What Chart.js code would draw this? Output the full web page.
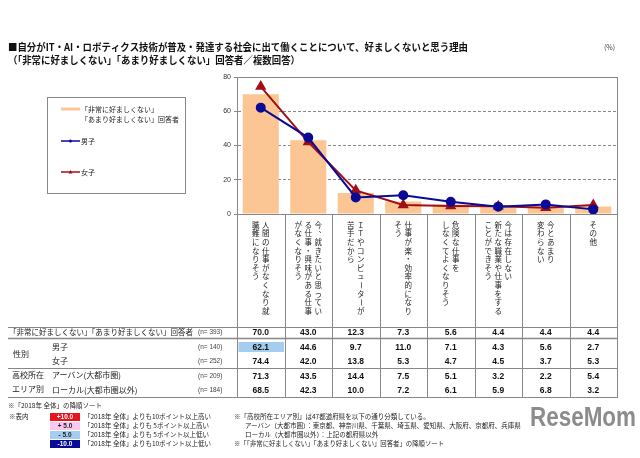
<!DOCTYPE html>
<html>
<head>
<meta charset="utf-8">
<script src="https://cdn.jsdelivr.net/npm/chart.js@4.4.0/dist/chart.umd.min.js"></script>
<style>
html, body { margin: 0; padding: 0; background: #fff; }
#wrap { width: 640px; height: 458px; position: relative; }
</style>
</head>
<body>
<div id="wrap"><canvas id="myChart"></canvas></div>
<script>
// vertical labels, one string per column (right column first)
var categories = [
    ['人間の仕事がなくなり就', '職難になりそう'],
    ['今、就きたいと思ってい', 'る仕事・興味がある仕事', 'がなくなりそう'],
    ['ＩＴやコンピューターが', '苦手だから'],
    ['仕事が楽・効率的になり', 'そう'],
    ['危険な仕事を', 'しなくてよくなりそう'],
    ['今は存在しない', '新たな職業や仕事をする', 'ことができそう'],
    ['今とあまり', '変わらない'],
    ['その他']
];
var total = [70.0, 43.0, 12.3, 7.3, 5.6, 4.4, 4.4, 4.4];
var boys  = [62.1, 44.6, 9.7, 11.0, 7.1, 4.3, 5.6, 2.7];
var girls = [74.4, 42.0, 13.8, 5.3, 4.7, 4.5, 3.7, 5.3];
var urban = [71.3, 43.5, 14.4, 7.5, 5.1, 3.2, 2.2, 5.4];
var local = [68.5, 42.3, 10.0, 7.2, 6.1, 5.9, 6.8, 3.2];
var sampleSizes = [393, 140, 252, 209, 184];
var yMax = 80;
var yStep = 20;

var JP = '"Noto Sans CJK JP", sans-serif';
var NUM = '"Liberation Sans", Arial, sans-serif';

var tableRows = [total, boys, girls, urban, local];
var rowY = [332, 347, 361, 376, 390];

function cellColor(v, base) {
    var d = v - base;
    if (d >= 10) return '#e8141e';
    if (d >= 5) return '#f9c8f0';
    if (d <= -10) return '#0a0a9a';
    if (d <= -5) return '#a4cdf0';
    return null;
}

function line(ctx, x1, y1, x2, y2) {
    ctx.beginPath();
    ctx.moveTo(x1, y1);
    ctx.lineTo(x2, y2);
    ctx.stroke();
}

var decorations = {
    id: 'decorations',
    afterDraw: function (chart) {
        var ctx = chart.ctx;
        var area = chart.chartArea;
        var xs = chart.scales.x;
        ctx.save();

        // title
        ctx.fillStyle = '#111';
        ctx.textBaseline = 'middle';
        ctx.font = 'bold 10px ' + JP;
        ctx.fillText('■自分がIT・AI・ロボティクス技術が普及・発達する社会に出て働くことについて、好ましくないと思う理由', 8, 47, 460);
        ctx.fillText('（「非常に好ましくない」「あまり好ましくない」回答者／複数回答）', 8, 60, 292);
        ctx.font = '7px ' + JP;
        ctx.fillStyle = '#444';
        ctx.fillText('(%)', 604, 47);

        // plot frame
        ctx.strokeStyle = '#888';
        ctx.lineWidth = 1;
        ctx.strokeRect(Math.round(area.left) + 0.5, Math.round(area.top) + 0.5,
            Math.round(area.right - area.left), Math.round(area.bottom - area.top));

        // legend box
        ctx.strokeStyle = '#888';
        ctx.strokeRect(47.5, 97.5, 138, 96);
        ctx.fillStyle = '#222';
        ctx.font = '7px ' + JP;
        ctx.strokeStyle = '#fbc693';
        ctx.lineWidth = 3;
        line(ctx, 61, 109, 80, 109);
        ctx.fillText('「非常に好ましくない」', 81, 109);
        ctx.fillText('「あまり好ましくない」回答者', 81, 119);
        ctx.lineWidth = 1.5;
        ctx.strokeStyle = '#0a0a96';
        line(ctx, 61, 141, 80, 141);
        ctx.fillStyle = '#0a0a96';
        ctx.beginPath(); ctx.arc(70.5, 141, 1.5, 0, Math.PI * 2); ctx.fill();
        ctx.strokeStyle = '#a00f14';
        line(ctx, 61, 172, 80, 172);
        ctx.fillStyle = '#a00f14';
        ctx.beginPath(); ctx.moveTo(70.5, 170); ctx.lineTo(72.5, 173.5); ctx.lineTo(68.5, 173.5); ctx.fill();
        ctx.fillStyle = '#222';
        ctx.fillText('男子', 81, 141);
        ctx.fillText('女子', 81, 172);

        // column separators and table lines
        var n = categories.length;
        var bounds = [area.left];
        for (var i = 0; i < n - 1; i++) {
            bounds.push((xs.getPixelForValue(i) + xs.getPixelForValue(i + 1)) / 2);
        }
        bounds.push(area.right);
        ctx.strokeStyle = '#888';
        ctx.lineWidth = 1;
        bounds.forEach(function (b) {
            var bx = Math.round(b) + 0.5;
            line(ctx, bx, area.bottom, bx, 398);
        });
        line(ctx, 8, 327.5, area.right, 327.5);
        ctx.lineWidth = 1.6;
        line(ctx, 8, 338.5, area.right, 338.5);
        ctx.lineWidth = 1;
        line(ctx, 8, 368.5, area.right, 368.5);
        line(ctx, 8, 397.5, area.right, 397.5);

        // vertical category labels
        ctx.fillStyle = '#222';
        ctx.font = '7.5px ' + JP;
        ctx.textAlign = 'center';
        categories.forEach(function (cols, i) {
            var cx = xs.getPixelForValue(i);
            var m = cols.length;
            cols.forEach(function (col, j) {
                var colX = cx + ((m - 1) / 2 - j) * 10;
                Array.from(col).forEach(function (ch, k) {
                    var cy = 225 + k * 8.6;
                    if (ch === 'ー') {
                        ctx.save();
                        ctx.translate(colX, cy);
                        ctx.rotate(Math.PI / 2);
                        ctx.fillText(ch, 0, 0);
                        ctx.restore();
                    } else if (ch === '、') {
                        ctx.fillText(ch, colX + 4, cy - 4);
                    } else {
                        ctx.fillText(ch, colX, cy);
                    }
                });
            });
        });

        // table values
        tableRows.forEach(function (vals, r) {
            vals.forEach(function (v, i) {
                var c = r > 0 ? cellColor(v, total[i]) : null;
                if (c) {
                    ctx.fillStyle = c;
                    ctx.fillRect(Math.round(bounds[i]) + 1.5, rowY[r] - 5, bounds[i + 1] - bounds[i] - 2, 10);
                }
                ctx.fillStyle = (c === '#e8141e' || c === '#0a0a9a') ? '#fff' : '#111';
                ctx.font = 'bold 8.5px ' + NUM;
                ctx.fillText(v.toFixed(1), xs.getPixelForValue(i), rowY[r] + 0.5);
            });
        });

        // row labels
        ctx.textAlign = 'left';
        ctx.fillStyle = '#222';
        ctx.font = '8px ' + JP;
        ctx.fillText('「非常に好ましくない」「あまり好ましくない」回答者', 9, 332, 184);
        ctx.fillText('性別', 13, 354);
        ctx.fillText('男子', 52, 347);
        ctx.fillText('女子', 52, 361);
        ctx.fillText('高校所在', 12, 375);
        ctx.fillText('エリア別', 12, 389);
        ctx.fillText('アーバン(大都市圏)', 52, 375);
        ctx.fillText('ローカル(大都市圏以外)', 52, 390);
        ctx.font = '6.5px ' + NUM;
        ctx.fillStyle = '#444';
        sampleSizes.forEach(function (s, r) {
            ctx.fillText('(n= ' + s + ')', 198, rowY[r]);
        });

        // footnotes
        ctx.fillStyle = '#222';
        ctx.font = '6.5px ' + JP;
        ctx.fillText('※「2018年 全体」の降順ソート', 8, 406);
        ctx.fillText('※表内', 9, 417);
        var keys = [
            ['+10.0', '#e8141e', '#fff', '「2018年 全体」よりも10ポイント以上高い'],
            ['+ 5.0', '#f9c8f0', '#222', '「2018年 全体」よりも 5ポイント以上高い'],
            ['- 5.0', '#a4cdf0', '#222', '「2018年 全体」よりも 5ポイント以上低い'],
            ['-10.0', '#0a0a9a', '#fff', '「2018年 全体」よりも10ポイント以上低い']
        ];
        keys.forEach(function (k, i) {
            var ky = 417 + i * 9;
            ctx.fillStyle = k[1];
            ctx.fillRect(50, ky - 4, 30, 8);
            ctx.fillStyle = k[2];
            ctx.textAlign = 'center';
            ctx.font = 'bold 6.5px ' + NUM;
            ctx.fillText(k[0], 65, ky);
            ctx.textAlign = 'left';
            ctx.fillStyle = '#222';
            ctx.font = '6.5px ' + JP;
            ctx.fillText(k[3], 84, ky, 134);
        });
        ctx.fillText('※「高校所在エリア別」は47都道府県を以下の通り分類している。', 234, 417, 215);
        ctx.fillText('アーバン（大都市圏）：東京都、神奈川県、千葉県、埼玉県、愛知県、大阪府、京都府、兵庫県', 245, 426, 300);
        ctx.fillText('ローカル（大都市圏以外）：上記の都府県以外', 245, 435, 150);
        ctx.fillText('※「「非常に好ましくない」「あまり好ましくない」回答者」の降順ソート', 234, 444, 210);

        // watermark
        ctx.fillStyle = '#8c8c8c';
        ctx.font = 'bold 27px ' + NUM;
        ctx.textBaseline = 'alphabetic';
        ctx.fillText('ReseMom', 530, 426, 106);

        ctx.restore();
    }
};

var ctx = document.getElementById('myChart').getContext('2d');
var myChart = new Chart(ctx, {
    type: 'bar',
    data: {
        labels: categories.map(function (c) { return c.join(''); }),
        datasets: [
            {
                type: 'line',
                label: '男子',
                data: boys,
                borderColor: '#0a0a96',
                backgroundColor: '#0a0a96',
                borderWidth: 2,
                pointStyle: 'circle',
                pointRadius: 4,
                order: 0
            },
            {
                type: 'line',
                label: '女子',
                data: girls,
                borderColor: '#a00f14',
                backgroundColor: '#a00f14',
                borderWidth: 2,
                pointStyle: 'triangle',
                pointRadius: 4.5,
                order: 1
            },
            {
                label: '「非常に好ましくない」「あまり好ましくない」回答者',
                data: total,
                backgroundColor: '#fbc693',
                barPercentage: 0.76,
                categoryPercentage: 1.0,
                order: 2
            }
        ]
    },
    options: {
        responsive: true,
        maintainAspectRatio: false,
        animation: false,
        layout: {
            padding: { left: 207, right: 23, top: 77, bottom: 244 }
        },
        plugins: {
            legend: { display: false },
            tooltip: { enabled: false }
        },
        scales: {
            x: {
                display: false
            },
            y: {
                min: 0,
                max: yMax,
                ticks: {
                    stepSize: yStep,
                    font: { size: 7, family: NUM },
                    color: '#333',
                    padding: 3
                },
                grid: {
                    color: '#888',
                    tickLength: 3
                },
                border: {
                    display: true,
                    color: '#888',
                    dash: [3, 2]
                },
                afterFit: function (scale) {
                    scale.width = 30;
                }
            }
        }
    },
    plugins: [decorations]
});
</script>
</body>
</html>
